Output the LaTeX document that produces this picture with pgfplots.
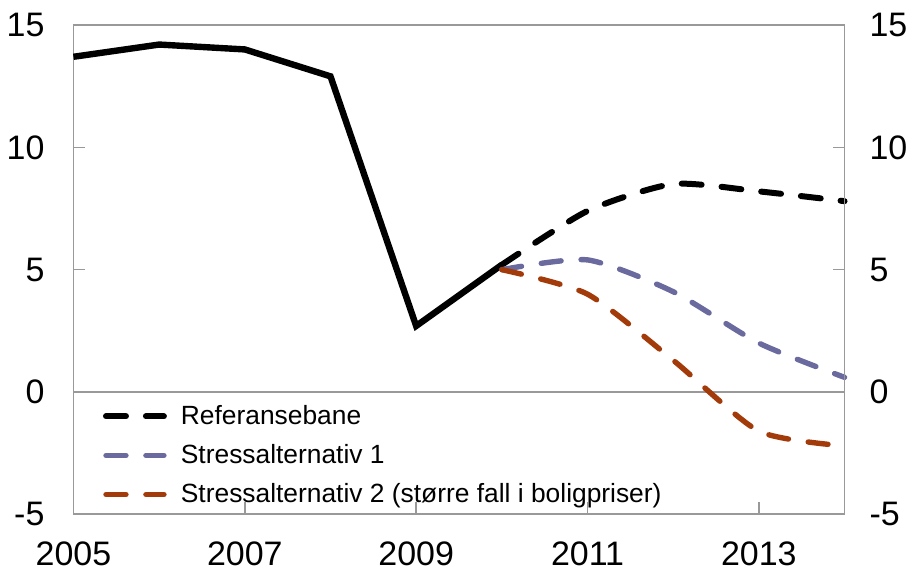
\documentclass[border=0pt]{standalone}
\usepackage{pgfplots}
\pgfplotsset{compat=1.18}
\usepackage{fontspec}
\setmainfont{Liberation Sans}
\definecolor{ref}{HTML}{000000}
\definecolor{sone}{HTML}{6A6A9E}
\definecolor{stwo}{HTML}{A33A0A}
\definecolor{axg}{HTML}{999999}
\begin{document}
\begin{tikzpicture}
\pgfplotsset{
  base/.style={
    scale only axis, width=386pt, height=245pt,
    xmin=2005, xmax=2014, ymin=-5, ymax=15,
    ytick={-5,0,5,10,15}, yticklabels={-5,0,5,10,15},
    tick align=inside, major tick length=6pt,
    tick style={axg, line width=0.8pt},
    axis line style={axg, line width=0.9pt},
    tick label style={font=\fontsize{17}{19}\selectfont},
  }
}
\begin{axis}[base,
  xtick={2005,2007,2009,2011,2013}, xticklabels={2005,2007,2009,2011,2013},
  xtick pos=bottom, ytick pos=left,
  xticklabel style={yshift=-10pt},
  yticklabel style={xshift=-11pt},
  legend style={draw=none, fill=none, at={(0.03,0.24)}, anchor=north west,
    font=\fontsize{13.2}{15}\selectfont, row sep=4.5pt,
    legend cell align=left},
  legend image code/.code={\draw[#1] (0pt,0pt) -- (29pt,0pt); \path (34pt,0pt);},
  clip=false,
]
\draw[axg, line width=0.9pt] (axis cs:2005,0) -- (axis cs:2014,0);
\addplot[black, line width=3.2pt, forget plot] coordinates {
(2005,13.7) (2006,14.2) (2007,14.0) (2008,12.9) (2009,2.7) (2010,5.2)};
\addplot[black, line width=3pt, dash pattern=on 10pt off 10pt, line cap=round, smooth, tension=0.4] coordinates {
(2010,5.2) (2011,7.4) (2012,8.5) (2013,8.2) (2014,7.8)};
\addlegendentry{Referansebane}
\addplot[sone, line width=2.7pt, dash pattern=on 10pt off 10pt, line cap=round, smooth, tension=0.4] coordinates {
(2010,5.0) (2011,5.4) (2012,4.1) (2013,2.0) (2014,0.6)};
\addlegendentry{Stressalternativ 1}
\addplot[stwo, line width=2.7pt, dash pattern=on 10pt off 10pt, line cap=round, smooth, tension=0.4] coordinates {
(2010,5.0) (2011,4.0) (2012,1.3) (2013,-1.6) (2014,-2.2)};
\addlegendentry{Stressalternativ 2 (større fall i boligpriser)}
\end{axis}
\begin{axis}[base,
  axis x line=none, axis y line*=right,
  ytick pos=right, yticklabel pos=right,
  yticklabel style={xshift=9pt},
]
\end{axis}
\path ([yshift=12.5pt]current axis.north);
\end{tikzpicture}
\end{document}
